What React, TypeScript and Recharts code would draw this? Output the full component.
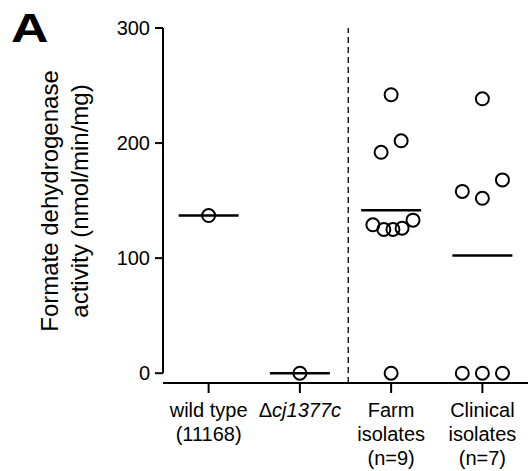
import { ReferenceLine, Scatter, ScatterChart, XAxis, YAxis } from "recharts";

const FONT = "'Liberation Sans', Arial, Helvetica, sans-serif";

// group positions on the x axis
const groupIds = [1, 2, 3, 4];
const groupLabels = [
  ["wild type", "(11168)"],
  ["Δ|cj1377c"],
  ["Farm", "isolates", "(n=9)"],
  ["Clinical", "isolates", "(n=7)"],
];

// activity values (nmol/min/mg)
const wildType = [137];
const mutant = [0];
const farm = [242, 202, 192, 133, 129, 125, 125, 126, 0];
const clinical = [238.5, 168, 158, 152, 0, 0, 0];

// horizontal scatter offsets inside each group
const wildTypeJitter = [0];
const mutantJitter = [0];
const farmJitter = [0, 0.11, -0.11, 0.24, -0.2, -0.08, 0.02, 0.12, 0];
const clinicalJitter = [0, 0.22, -0.22, 0, -0.22, 0, 0.22];

const yTicks = [0, 100, 200, 300];

const groups = [wildType, mutant, farm, clinical];
const jitters = [wildTypeJitter, mutantJitter, farmJitter, clinicalJitter];

const points = groups.flatMap((vals, gi) =>
  vals.map((v, i) => ({ x: groupIds[gi] + jitters[gi][i], y: v }))
);
const means = groups.map((vals, gi) => ({
  x: groupIds[gi],
  y: vals.reduce((a, b) => a + b, 0) / vals.length,
}));

function OpenCircle(props: any) {
  return <circle cx={props.cx} cy={props.cy} r={6.5} fill="none" stroke="#000" strokeWidth={2} />;
}

function MeanBar(props: any) {
  return <line x1={props.cx - 30} x2={props.cx + 30} y1={props.cy} y2={props.cy} stroke="#000" strokeWidth={2.5} />;
}

function GroupTick(props: any) {
  const { x, y, payload } = props;
  const lines = groupLabels[groupIds.indexOf(payload.value)] || [];
  return (
    <text x={x} y={y + 22} textAnchor="middle" fontFamily={FONT} fontSize={20} fill="#000">
      {lines.map((line, i) => {
        if (line.includes("|")) {
          const [a, b] = line.split("|");
          return (
            <tspan key={i} x={x} dy={i === 0 ? 0 : 24}>
              {a}
              <tspan fontStyle="italic">{b}</tspan>
            </tspan>
          );
        }
        return (
          <tspan key={i} x={x} dy={i === 0 ? 0 : 24}>
            {line}
          </tspan>
        );
      })}
    </text>
  );
}

export default function App() {
  return (
    <div style={{ position: "absolute", left: 0, top: 0, width: 528, height: 471, background: "#fff" }}>
      <ScatterChart width={528} height={471} margin={{ top: 28, right: 0, bottom: 8, left: 103 }}>
        <XAxis
          type="number"
          dataKey="x"
          domain={[0.5, 4.5]}
          ticks={groupIds}
          allowDataOverflow
          height={80}
          axisLine={{ stroke: "#000", strokeWidth: 2 }}
          tickLine={{ stroke: "#000", strokeWidth: 2 }}
          tickSize={10}
          tick={<GroupTick />}
        />
        <YAxis
          type="number"
          dataKey="y"
          domain={[-8.5, 300]}
          ticks={yTicks}
          allowDataOverflow
          width={60}
          axisLine={false}
          tickLine={{ stroke: "#000", strokeWidth: 2 }}
          tickSize={8}
          tickMargin={5}
          tick={{ fill: "#000", fontSize: 20, fontFamily: FONT }}
        />
        <ReferenceLine
          segment={[{ x: 0.5, y: 0 }, { x: 0.5, y: 300 }]}
          stroke="#000"
          strokeWidth={2}
        />
        <ReferenceLine x={2.53} stroke="#000" strokeWidth={1.3} strokeDasharray="6 4" />
        <Scatter data={means} shape={<MeanBar />} isAnimationActive={false} />
        <Scatter data={points} shape={<OpenCircle />} isAnimationActive={false} />
      </ScatterChart>
      <svg width={528} height={471} style={{ position: "absolute", left: 0, top: 0, pointerEvents: "none" }}>
        <text transform="translate(11,42) scale(1.3,1)" fontFamily={FONT} fontWeight={700} fontSize={40} fill="#000">
          A
        </text>
        <text
          transform="translate(58,201) rotate(-90)"
          textAnchor="middle"
          fontFamily={FONT}
          fontSize={24}
          fill="#000"
        >
          Formate dehydrogenase
        </text>
        <text
          transform="translate(88,201) rotate(-90)"
          textAnchor="middle"
          fontFamily={FONT}
          fontSize={24}
          fill="#000"
        >
          activity (nmol/min/mg)
        </text>
      </svg>
    </div>
  );
}
